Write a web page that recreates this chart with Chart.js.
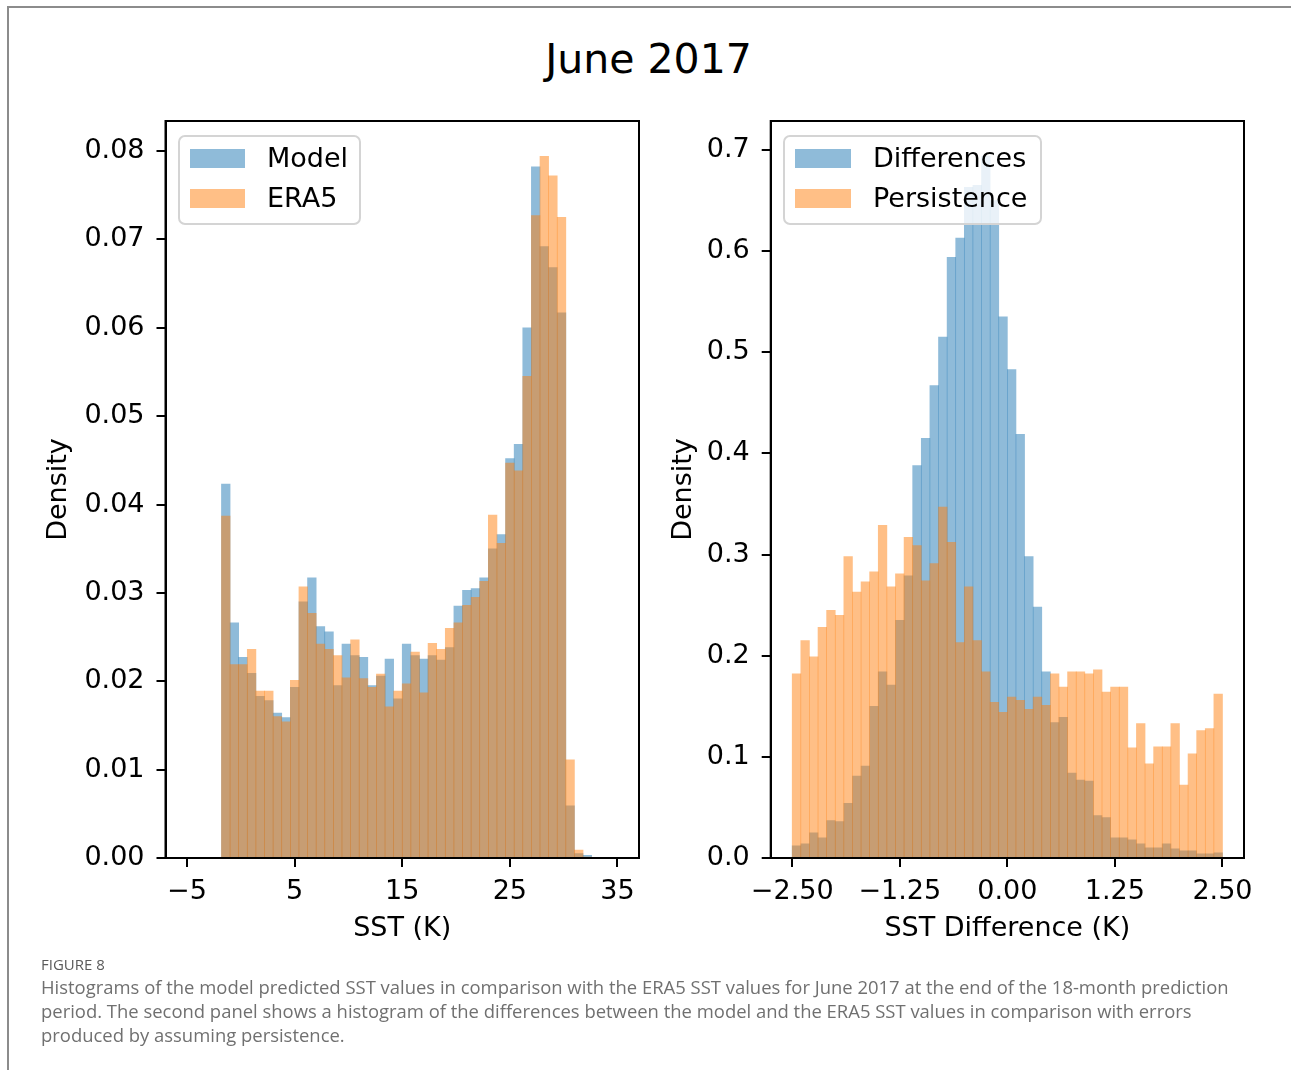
<!DOCTYPE html>
<html>
<head>
<meta charset="utf-8">
<script src="https://cdn.jsdelivr.net/npm/chart.js@4.4.1/dist/chart.umd.min.js"></script>
<style>
  html, body { margin:0; padding:0; background:#fff; }
  body { width:1291px; height:1070px; position:relative; overflow:hidden; font-family:'DejaVu Sans', sans-serif; }
  .abs { position:absolute; }
  #frame { left:7px; top:6px; width:1300px; height:1100px; border-left:2px solid #8c8c8c; border-top:2px solid #8c8c8c; }
  #title { left:0; width:1297px; top:39px; height:41px; line-height:41px; text-align:center; font-size:41px; color:#000; white-space:nowrap; }
  .legend { border:2px solid #d4d4d4; border-radius:7px; background:rgba(255,255,255,0.8); box-sizing:border-box; }
  .handle { height:19px; }
  .ltext { font-size:27px; line-height:32px; height:32px; color:#000; white-space:nowrap; }
  .cap { left:41px; white-space:nowrap; font-family:'Open Sans', sans-serif; color:#707070; font-size:18.45px; line-height:24px; }
</style>
</head>
<body>
<div id="frame" class="abs"></div>
<div id="title" class="abs">June 2017</div>

<div class="abs" style="left:0;top:0;width:660px;height:960px;"><canvas id="c1"></canvas></div>
<div class="abs" style="left:660px;top:0;width:631px;height:960px;"><canvas id="c2"></canvas></div>

<!-- legends -->
<div class="abs legend" style="left:178px;top:135px;width:183px;height:90px;"></div>
<div class="abs handle" style="left:189.5px;top:148.5px;width:55.5px;background:rgba(31,119,180,0.5);"></div>
<div class="abs handle" style="left:189.5px;top:188.5px;width:55.5px;background:rgba(255,127,14,0.5);"></div>
<div class="abs ltext" style="left:267px;top:141.5px;">Model</div>
<div class="abs ltext" style="left:267px;top:181.5px;">ERA5</div>

<div class="abs legend" style="left:783px;top:135px;width:259px;height:90px;"></div>
<div class="abs handle" style="left:795px;top:148.5px;width:56px;background:rgba(31,119,180,0.5);"></div>
<div class="abs handle" style="left:795px;top:188.5px;width:56px;background:rgba(255,127,14,0.5);"></div>
<div class="abs ltext" style="left:873px;top:141.5px;">Differences</div>
<div class="abs ltext" style="left:873px;top:181.5px;">Persistence</div>

<!-- caption -->
<div class="abs cap" style="top:953px;font-size:15px;color:#5a5a5a;line-height:22px;">FIGURE 8</div>
<div class="abs cap" style="top:975px;">Histograms of the model predicted SST values in comparison with the ERA5 SST values for June 2017 at the end of the 18-month prediction</div>
<div class="abs cap" style="top:999px;">period. The second panel shows a histogram of the differences between the model and the ERA5 SST values in comparison with errors</div>
<div class="abs cap" style="top:1023px;">produced by assuming persistence.</div>

<script>
// ---------- DATA ----------
// Left panel: SST histogram bin centres (K), bin width 0.8
const sstBinCenters = [-1.4, -0.6, 0.2, 1.0, 1.8, 2.6, 3.4, 4.2, 5.0, 5.8, 6.6, 7.4, 8.2, 9.0, 9.8,
  10.6, 11.4, 12.2, 13.0, 13.8, 14.6, 15.4, 16.2, 17.0, 17.8, 18.6, 19.4, 20.2, 21.0, 21.8,
  22.6, 23.4, 24.2, 25.0, 25.8, 26.6, 27.4, 28.2, 29.0, 29.8, 30.6, 31.4, 32.2];
const modelDensity = [0.0423, 0.0266, 0.0227, 0.0209, 0.0183, 0.0178, 0.0164, 0.0159, 0.0193, 0.0290,
  0.0317, 0.0262, 0.0256, 0.0195, 0.0242, 0.0229, 0.0227, 0.0195, 0.0206, 0.0225,
  0.0180, 0.0242, 0.0229, 0.0225, 0.0229, 0.0224, 0.0238, 0.0285, 0.0303, 0.0305,
  0.0317, 0.0350, 0.0366, 0.0452, 0.0468, 0.0600, 0.0782, 0.0692, 0.0668, 0.0617,
  0.0059, 0.0005, 0.0003];
const era5Density = [0.0387, 0.0219, 0.0219, 0.0236, 0.0189, 0.0189, 0.0160, 0.0154, 0.0201, 0.0307,
  0.0277, 0.0242, 0.0236, 0.0229, 0.0204, 0.0247, 0.0203, 0.0193, 0.0208, 0.0171,
  0.0189, 0.0197, 0.0233, 0.0187, 0.0243, 0.0236, 0.0260, 0.0266, 0.0286, 0.0295,
  0.0313, 0.0388, 0.0356, 0.0447, 0.0438, 0.0545, 0.0727, 0.0794, 0.0772, 0.0725,
  0.0111, 0.0009, 0.0001];
const sstTicks = [-5, 5, 15, 25, 35];
const sstTickLabels = ['\u22125', '5', '15', '25', '35'];
const densityTicksLeft = [0, 0.01, 0.02, 0.03, 0.04, 0.05, 0.06, 0.07, 0.08];
const densityTickLabelsLeft = ['0.00', '0.01', '0.02', '0.03', '0.04', '0.05', '0.06', '0.07', '0.08'];

// Right panel: SST difference histogram bin centres (K), bin width 0.1
const diffBinCenters = [-2.45, -2.35, -2.25, -2.15, -2.05, -1.95, -1.85, -1.75, -1.65, -1.55,
  -1.45, -1.35, -1.25, -1.15, -1.05, -0.95, -0.85, -0.75, -0.65, -0.55,
  -0.45, -0.35, -0.25, -0.15, -0.05, 0.05, 0.15, 0.25, 0.35, 0.45,
  0.55, 0.65, 0.75, 0.85, 0.95, 1.05, 1.15, 1.25, 1.35, 1.45,
  1.55, 1.65, 1.75, 1.85, 1.95, 2.05, 2.15, 2.25, 2.35, 2.45];
const differencesDensity = [0.012, 0.014, 0.025, 0.020, 0.037, 0.036, 0.054, 0.081, 0.091, 0.150,
  0.184, 0.171, 0.235, 0.279, 0.388, 0.415, 0.467, 0.515, 0.594, 0.613,
  0.663, 0.665, 0.694, 0.650, 0.535, 0.483, 0.419, 0.298, 0.248, 0.184,
  0.134, 0.139, 0.084, 0.077, 0.076, 0.042, 0.040, 0.020, 0.020, 0.018,
  0.014, 0.010, 0.010, 0.014, 0.009, 0.007, 0.007, 0.004, 0.004, 0.005];
const persistenceDensity = [0.182, 0.215, 0.199, 0.228, 0.245, 0.240, 0.298, 0.263, 0.273, 0.283,
  0.329, 0.268, 0.281, 0.317, 0.309, 0.274, 0.291, 0.347, 0.312, 0.213,
  0.268, 0.215, 0.184, 0.154, 0.144, 0.159, 0.156, 0.147, 0.159, 0.151,
  0.182, 0.169, 0.184, 0.184, 0.182, 0.186, 0.164, 0.169, 0.169, 0.109,
  0.133, 0.093, 0.110, 0.110, 0.133, 0.072, 0.103, 0.126, 0.128, 0.162];
const diffTicks = [-2.5, -1.25, 0, 1.25, 2.5];
const diffTickLabels = ['\u22122.50', '\u22121.25', '0.00', '1.25', '2.50'];
const densityTicksRight = [0, 0.1, 0.2, 0.3, 0.4, 0.5, 0.6, 0.7];
const densityTickLabelsRight = ['0.0', '0.1', '0.2', '0.3', '0.4', '0.5', '0.6', '0.7'];

// ---------- STYLE ----------
const BLUE = 'rgba(31,119,180,0.5)';
const ORANGE = 'rgba(255,127,14,0.5)';
const FONT = { family: 'DejaVu Sans', size: 27 };

const framePlugin = {
  id: 'frame',
  afterDraw(chart) {
    const { ctx, chartArea: a } = chart;
    ctx.save();
    ctx.strokeStyle = '#000';
    ctx.lineWidth = 2;
    ctx.strokeRect(a.left, a.top, a.right - a.left, a.bottom - a.top);
    ctx.restore();
  }
};

function toPoints(xs, ys) { return xs.map((x, i) => ({ x: x, y: ys[i] })); }

function makeChart(id, cfg) {
  const axisCommon = {
    grid: { drawOnChartArea: false, drawTicks: true, tickLength: 9, color: '#000', lineWidth: 2, offset: false },
    border: { display: true, color: '#000', width: 2 },
  };
  return new Chart(document.getElementById(id), {
    type: 'bar',
    data: {
      datasets: [
        { label: cfg.labels[0], data: toPoints(cfg.centers, cfg.series[0]), backgroundColor: BLUE, borderWidth: 0, order: 2 },
        { label: cfg.labels[1], data: toPoints(cfg.centers, cfg.series[1]), backgroundColor: ORANGE, borderWidth: 0, order: 1 }
      ]
    },
    options: {
      responsive: true,
      maintainAspectRatio: false,
      animation: false,
      events: [],
      layout: { padding: cfg.padding },
      datasets: { bar: { grouped: false, barPercentage: 1.0, categoryPercentage: 1.0 } },
      plugins: { legend: { display: false }, tooltip: { enabled: false }, title: { display: false } },
      scales: {
        x: Object.assign({}, axisCommon, {
          type: 'linear', min: cfg.xMin, max: cfg.xMax, offset: false,
          afterBuildTicks: s => { s.ticks = cfg.xTicks.map(v => ({ value: v })); },
          afterFit: s => { s.height = 87; },
          ticks: { font: FONT, color: '#000', padding: 9, maxRotation: 0, autoSkip: false,
                   callback: (v) => { const i = cfg.xTicks.indexOf(v); return i >= 0 ? cfg.xTickLabels[i] : ''; } },
          title: { display: true, text: cfg.xTitle, font: FONT, color: '#000', padding: { top: 0, bottom: 0 } }
        }),
        y: Object.assign({}, axisCommon, {
          type: 'linear', min: 0, max: cfg.yMax, beginAtZero: true,
          afterBuildTicks: s => { s.ticks = cfg.yTicks.map(v => ({ value: v })); },
          afterFit: s => { s.width = cfg.yWidth; },
          ticks: { font: FONT, color: '#000', padding: 12, autoSkip: false,
                   callback: (v) => { const i = cfg.yTicks.findIndex(t => Math.abs(t - v) < 1e-9); return i >= 0 ? cfg.yTickLabels[i] : ''; } },
          title: { display: true, text: 'Density', font: FONT, color: '#000', padding: { top: cfg.yTitlePad, bottom: 0 } }
        })
      }
    },
    plugins: [framePlugin]
  });
}

makeChart('c1', {
  labels: ['Model', 'ERA5'],
  centers: sstBinCenters, series: [modelDensity, era5Density],
  xMin: -7, xMax: 37, xTicks: sstTicks, xTickLabels: sstTickLabels, xTitle: 'SST (K)',
  yMax: 0.0834, yTicks: densityTicksLeft, yTickLabels: densityTickLabelsLeft,
  yWidth: 165.5, yTitlePad: 42.5,
  padding: { left: 0, top: 121, right: 21, bottom: 15 }
});

makeChart('c2', {
  labels: ['Differences', 'Persistence'],
  centers: diffBinCenters, series: [differencesDensity, persistenceDensity],
  xMin: -2.75, xMax: 2.75, xTicks: diffTicks, xTickLabels: diffTickLabels, xTitle: 'SST Difference (K)',
  yMax: 0.7287, yTicks: densityTicksRight, yTickLabels: densityTickLabelsRight,
  yWidth: 110.7, yTitlePad: 7.5,
  padding: { left: 0, top: 121, right: 47, bottom: 15 }
});
</script>
</body>
</html>
